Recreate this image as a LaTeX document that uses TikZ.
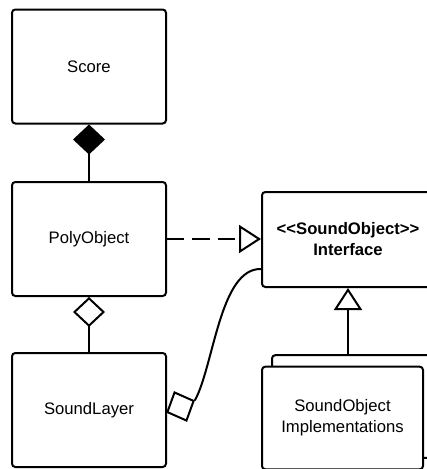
\documentclass[tikz,border=0pt]{standalone}
\usepackage{fontspec}
\setmainfont{Liberation Sans}
\usetikzlibrary{arrows.meta,shapes.geometric}

\tikzset{every picture/.style={line width=1.5pt}}
\tikzset{
  umlbox/.style={draw, fill=white, rounded corners=2.5pt, align=center, inner sep=0.75pt,
    font=\fontsize{12.5pt}{15.75pt}\selectfont},
  classbox/.style={umlbox, minimum width=115.5pt, minimum height=85.5pt},
  implbox/.style={umlbox, minimum width=120.75pt, minimum height=77pt},
  aggdia/.style={draw, fill=white, shape=diamond, aspect=1, inner sep=0pt, minimum width=22pt, minimum height=23.5pt},
  realize/.style={-{Triangle[open, length=16.5pt, width=21pt]}},
}

\begin{document}
\begin{tikzpicture}[x=0.75pt,y=0.75pt,yscale=-1,xscale=1]
\useasboundingbox (0,0) rectangle (427,469);
\clip (0,0) rectangle (427,469);

%Shape: Rounded Rect [id:score] 
\node [classbox] (score) at (89,66.5) {Score};
%Shape: Rounded Rect [id:poly] 
\node [classbox] (poly) at (89,239) {PolyObject};
%Shape: Rounded Rect [id:layer] 
\node [classbox] (layer) at (89,410) {SoundLayer};
%Shape: Rounded Rect [id:iface] 
\node [umlbox, minimum width=129pt, minimum height=71.25pt, font=\fontsize{12.5pt}{15.75pt}\selectfont\bfseries] (iface) at (348,239.5) {<{}<SoundObject>{}>\\Interface};
%Shape: Rounded Rect [id:implback] 
\node [implbox] (implback) at (352.5,406.5) {};
%Shape: Rounded Rect [id:impl] 
\node [implbox] (impl) at (342.5,418) {SoundObject\\Implementations};

%Straight Lines [id:compose] 
\draw [{Diamond[length=22.5pt, width=24pt]}-] (score.south) -- (poly.north) ;
%Straight Lines [id:aggregate] 
\draw [{Diamond[open, length=22.5pt, width=24pt]}-] (poly.south) -- (layer.north) ;
%Straight Lines [id:dashreal] 
\draw [realize, dash pattern=on 13pt off 6pt] (poly.east) -- (poly.east -| iface.west) ;
%Straight Lines [id:implreal] 
\draw [realize] (iface.south |- implback.north) -- (iface.south) ;

%Shape: Diamond [id:agg] 
\node [aggdia, rotate=23] (agg) at (180.5,406.5) {};
%Curve Lines [id:layercurve] 
\draw ([yshift=-14.25pt]iface.south west) .. controls (220,268) and (214,365) .. (agg.east) ;

\end{tikzpicture}
\end{document}
